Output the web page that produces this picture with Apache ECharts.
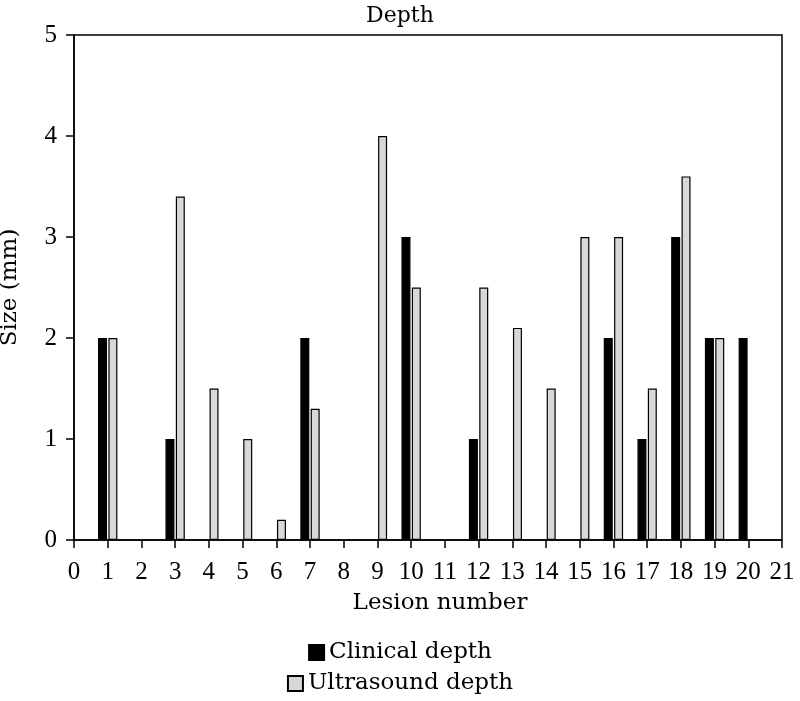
<!DOCTYPE html>
<html>
<head>
<meta charset="utf-8">
<script src="https://cdn.jsdelivr.net/npm/echarts@6/dist/echarts.min.js"></script>
<style>html,body{margin:0;padding:0;background:#fff}#c{width:800px;height:701px}</style>
</head>
<body>
<div id="c"></div>
<script>
const lesions = [1,2,3,4,5,6,7,8,9,10,11,12,13,14,15,16,17,18,19,20];
const clinicalDepth = [2,null,1,null,null,null,2,null,null,3,null,1,null,null,null,2,1,3,2,2];
const ultrasoundDepth = [2,null,3.4,1.5,1.0,0.2,1.3,null,4.0,2.5,null,2.5,2.1,1.5,3.0,3.0,1.5,3.6,2.0,null];
const seriesNames = ['Clinical depth','Ultrasound depth'];

const pairs = (vals) => lesions.map((l,i) => [l, vals[i]]).filter(p => p[1] !== null);
const txtFont = 'DejaVu Serif';
const numFont = 'Liberation Serif';

const chart = echarts.init(document.getElementById('c'), null, {renderer:'canvas'});
chart.setOption({
  animation:false,
  backgroundColor:'#fff',
  title:{text:'Depth', left:'center', top:0,
    textStyle:{fontFamily:txtFont, fontSize:22, fontWeight:'normal', color:'#000'}},
  grid:{left:74, right:18, top:35, bottom:161, show:true, borderColor:'#000', borderWidth:1.5,
    containLabel:false, outerBoundsMode:'none'},
  legend:[
    {data:[seriesNames[0]], icon:'rect', left:'center', top:636, itemWidth:15, itemHeight:15, itemGap:8,
     textStyle:{fontFamily:txtFont, fontSize:23, color:'#000'}},
    {data:[seriesNames[1]], icon:'rect', left:'center', top:667, itemWidth:15, itemHeight:15, itemGap:8,
     textStyle:{fontFamily:txtFont, fontSize:23, color:'#000'}}
  ],
  xAxis:{type:'value', min:0, max:21, interval:1,
    name:'Lesion number', nameLocation:'middle', nameGap:52,
    nameTextStyle:{fontFamily:txtFont, fontSize:23, color:'#000', padding:[0,0,0,24]},
    axisLine:{show:true, lineStyle:{color:'#000', width:1.5}},
    axisTick:{show:true, length:8, lineStyle:{color:'#000', width:1.5}},
    axisLabel:{margin:20, fontFamily:numFont, fontSize:25, color:'#000'},
    splitLine:{show:false}},
  yAxis:{type:'value', min:0, max:5, interval:1,
    name:'Size (mm)', nameLocation:'middle', nameGap:52,
    nameTextStyle:{fontFamily:txtFont, fontSize:23, color:'#000'},
    axisLine:{show:true, lineStyle:{color:'#000', width:1.5}},
    axisTick:{show:true, length:8, lineStyle:{color:'#000', width:1.5}},
    axisLabel:{margin:17, fontFamily:numFont, fontSize:25, color:'#000'},
    splitLine:{show:false}},
  series:[
    {name:seriesNames[0], type:'bar', data:pairs(clinicalDepth), barWidth:9, barGap:'15%',
     itemStyle:{color:'#000', borderColor:'#000', borderWidth:1.2}},
    {name:seriesNames[1], type:'bar', data:pairs(ultrasoundDepth), barWidth:9, barGap:'15%',
     itemStyle:{color:'#d8d8d8', borderColor:'#000', borderWidth:1.2}}
  ]
});
</script>
</body>
</html>
